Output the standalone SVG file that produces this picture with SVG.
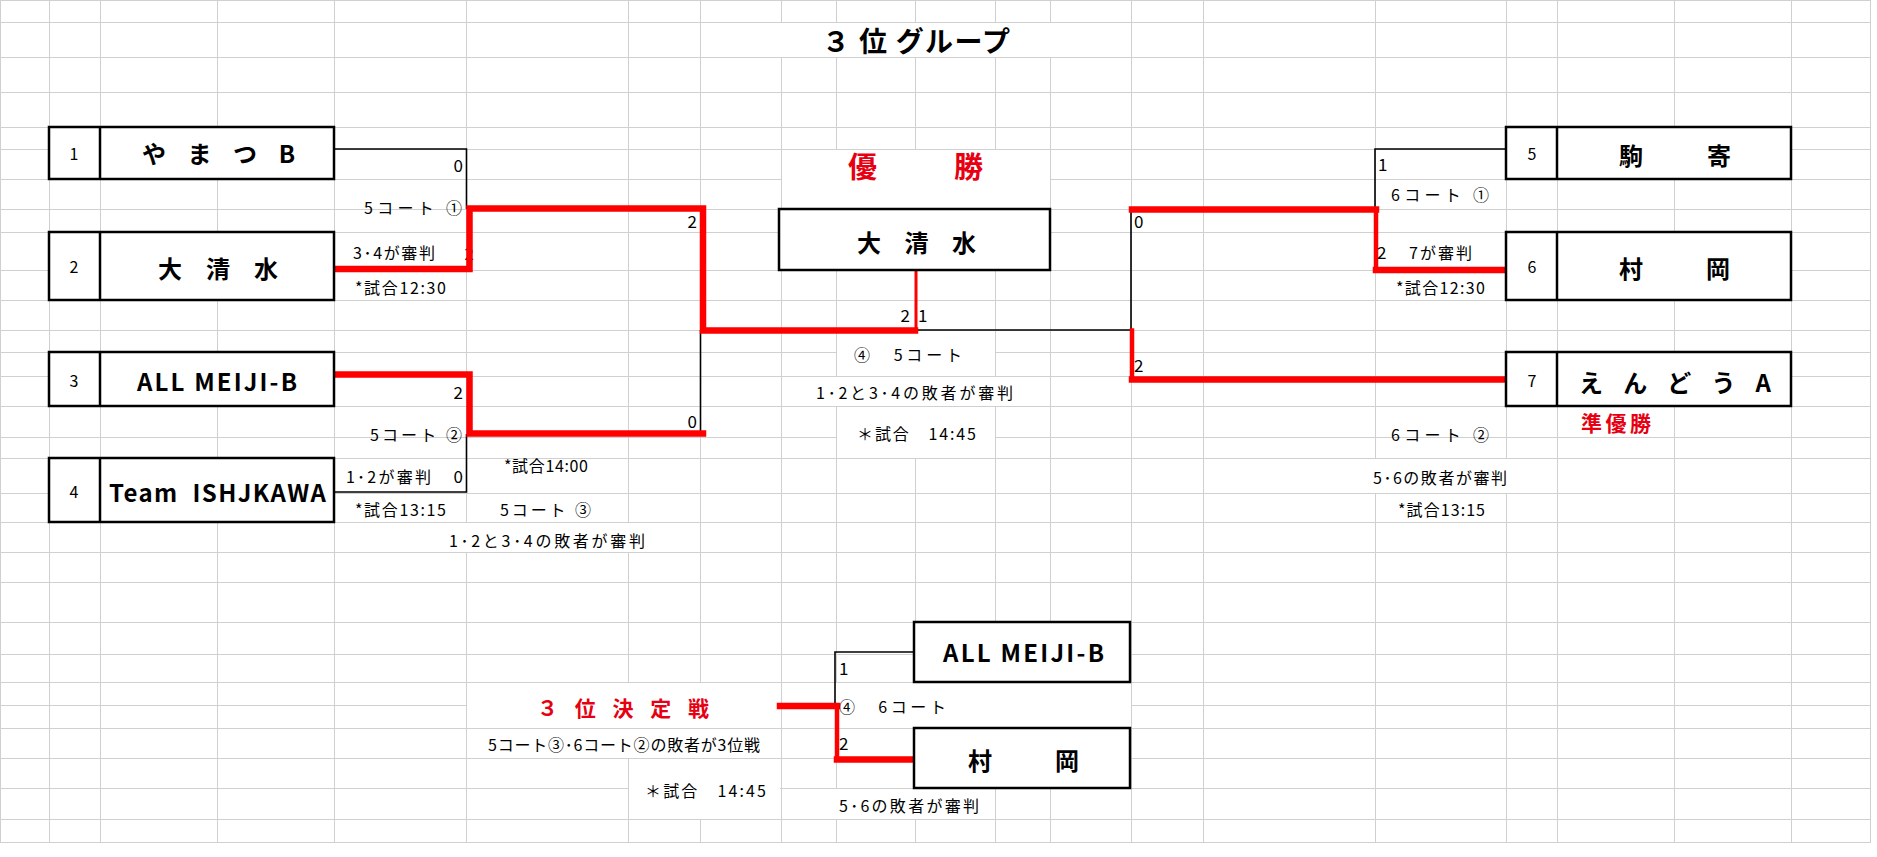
<svg xmlns="http://www.w3.org/2000/svg" width="1877" height="857" viewBox="0 0 1877 857">
<style>
text{font-family:"Noto Sans CJK JP","Noto Sans",sans-serif;fill:#000}
.grid{stroke:#d0d0d0;stroke-width:1;fill:none;shape-rendering:crispEdges}
.m{fill:#fff}
.box{fill:#fff;stroke:#000;stroke-width:2.5}
.div{stroke:#000;stroke-width:2.5}
.nm{font-size:24px;font-weight:bold}
.num{font-size:16px;text-anchor:middle}
.sm{font-size:16px}
.sc{font-size:17px}
.e{text-anchor:end}
.red{fill:#e60012;font-weight:bold}
.bk{stroke:#000;stroke-width:1.6;fill:none}
.rt{stroke:#f00;stroke-width:6.5;fill:none;stroke-linecap:square}
.rm{stroke:#f00;stroke-width:4.5;fill:none;stroke-linecap:square}
.rs{stroke:#f00;stroke-width:3;fill:none}
</style>
<rect width="1877" height="857" fill="#fff"/>
<g id="grid">
<path class="grid" d="M0.5,0V842M49.5,0V842M100.5,0V842M217.5,0V842M334.5,0V842M466.5,0V842M628.5,0V842M700.5,0V842M781.5,0V842M836.5,0V842M915.5,0V842M995.5,0V842M1050.5,0V842M1131.5,0V842M1203.5,0V842M1375.5,0V842M1506.5,0V842M1557.5,0V842M1674.5,0V842M1791.5,0V842M1870.5,0V842"/>
<path class="grid" d="M0,0.5H1871M0,22.5H1871M0,57.5H1871M0,92.5H1871M0,127.5H1871M0,149.5H1871M0,179.5H1871M0,209.5H1871M0,232.5H1871M0,270.5H1871M0,300.5H1871M0,330.5H1871M0,352.5H1871M0,376.5H1871M0,406.5H1871M0,437.5H1871M0,458.5H1871M0,493.5H1871M0,522.5H1871M0,552.5H1871M0,582.5H1871M0,622.5H1871M0,654.5H1871M0,682.5H1871M0,705.5H1871M0,728.5H1871M0,758.5H1871M0,788.5H1871M0,819.5H1871M0,842.5H1871"/>
<rect class="m" x="701" y="23" width="430" height="34"/>
<rect class="m" x="782" y="150" width="268" height="59"/>
<rect class="m" x="837" y="331" width="158" height="45"/>
<rect class="m" x="782" y="377" width="268" height="29"/>
<rect class="m" x="837" y="407" width="158" height="51"/>
<rect class="m" x="447" y="523" width="200" height="29"/>
<rect class="m" x="1372" y="459" width="136" height="34"/>
<rect class="m" x="467" y="683" width="313" height="45"/>
<rect class="m" x="836" y="683" width="295" height="45"/>
<rect class="m" x="486" y="729" width="276" height="29"/>
<rect class="m" x="629" y="759" width="151" height="60"/>
<rect class="m" x="836" y="789" width="158" height="30"/>
</g>
<g id="score-hidden">
<text class="sc e" x="474" y="260">2</text>
</g>
<g id="connectors">
<path class="bk" d="M334,149H466.5V209"/>
<path class="bk" d="M334,492H466.5V434"/>
<path class="bk" d="M700.5,330V434"/>
<path class="bk" d="M915,330H1131V209"/>
<path class="bk" d="M1506,149H1375V209"/>
<path class="bk" d="M914,652H835V706"/>
<path class="rt" d="M337,269H469.5V208.5H703V330.5H915" stroke-linecap="butt"/>
<path class="rt" d="M337,374.5H469.5V433.5H703" stroke-linecap="butt"/>
<path class="rs" d="M916,270V331"/>
<path class="rt" d="M1132,209.5H1376"/>
<path class="rm" d="M1376,209.5V270"/>
<path class="rt" d="M1376,270H1504" stroke-linecap="butt"/>
<path class="rm" d="M1132,330.5V379.5"/>
<path class="rt" d="M1132,379.5H1504" stroke-linecap="butt"/>
<path class="rt" d="M780,706H837" stroke-linecap="butt"/>
<path class="rm" d="M837,706V759.5"/>
<path class="rt" d="M837,759.5H912" stroke-linecap="butt"/>
</g>
<g id="title">
<text x="822" y="52" font-size="28" font-weight="bold" textLength="188">３ 位 グループ</text>
</g>
<g id="team1">
<rect class="box" x="49" y="127" width="285" height="52"/>
<line class="div" x1="100" y1="127" x2="100" y2="179"/>
<text class="num" x="74" y="160">1</text>
<text class="nm" x="142" y="163" font-size="23" textLength="153">や ま つ B</text>
</g>
<g id="team2">
<rect class="box" x="49" y="232" width="285" height="68"/>
<line class="div" x1="100" y1="232" x2="100" y2="300"/>
<text class="num" x="74" y="273">2</text>
<text class="nm" x="158" y="278" textLength="120">大 清 水</text>
</g>
<g id="team3">
<rect class="box" x="49" y="352" width="285" height="54"/>
<line class="div" x1="100" y1="352" x2="100" y2="406"/>
<text class="num" x="74" y="387">3</text>
<text class="nm" x="137" y="391" font-size="22" textLength="160">ALL MEIJI-B</text>
</g>
<g id="team4">
<rect class="box" x="49" y="458" width="285" height="64"/>
<line class="div" x1="100" y1="458" x2="100" y2="522"/>
<text class="num" x="74" y="498">4</text>
<text class="nm" x="109" y="502" font-size="22" textLength="217" xml:space="preserve">Team  ISHJKAWA</text>
</g>
<g id="team5">
<rect class="box" x="1506" y="127" width="285" height="52"/>
<line class="div" x1="1557" y1="127" x2="1557" y2="179"/>
<text class="num" x="1532" y="160">5</text>
<text class="nm" x="1619" y="165" font-size="25" textLength="112">駒　　寄</text>
</g>
<g id="team6">
<rect class="box" x="1506" y="232" width="285" height="68"/>
<line class="div" x1="1557" y1="232" x2="1557" y2="300"/>
<text class="num" x="1532" y="273">6</text>
<text class="nm" x="1619" y="278" font-size="25" textLength="111">村　　岡</text>
</g>
<g id="team7">
<rect class="box" x="1506" y="352" width="285" height="54"/>
<line class="div" x1="1557" y1="352" x2="1557" y2="406"/>
<text class="num" x="1532" y="387">7</text>
<text class="nm" x="1579" y="392" font-size="23" textLength="192">え ん ど う A</text>
<text class="red" x="1581" y="431" font-size="21" textLength="70">準優勝</text>
</g>
<g id="champion">
<text class="red" x="848" y="178" font-size="29" textLength="135">優　　勝</text>
<rect class="box" x="779" y="209" width="271" height="61"/>
<text class="nm" x="857" y="252" textLength="119">大 清 水</text>
</g>
<g id="third-a">
<rect class="box" x="914" y="622" width="216" height="60"/>
<text class="nm" x="943" y="662" font-size="23" textLength="161">ALL MEIJI-B</text>
</g>
<g id="third-b">
<rect class="box" x="914" y="728" width="216" height="60"/>
<text class="nm" x="968" y="770" font-size="25" textLength="111">村　　岡</text>
</g>
<g id="third-label">
<text class="red" x="537" y="716" font-size="21" textLength="172">３ 位 決 定 戦</text>
<text class="sm" x="488" y="751" textLength="272">5コート③･6コート②の敗者が3位戦</text>
<text class="sm" x="645" y="797" textLength="121">＊試合　14:45</text>
</g>
<g id="labels">
<text class="sm" x="364" y="214" textLength="98">5コート ①</text>
<text class="sm" x="353" y="259" textLength="82">3･4が審判</text>
<text class="sm" x="355" y="294" textLength="91">*試合12:30</text>
<text class="sm" x="370" y="441" textLength="92">5コート ②</text>
<text class="sm" x="346" y="483" textLength="85">1･2が審判</text>
<text class="sm" x="355" y="516" textLength="91">*試合13:15</text>
<text class="sm" x="504" y="472" textLength="84">*試合14:00</text>
<text class="sm" x="500" y="516" textLength="91">5コート ③</text>
<text class="sm" x="449" y="547" textLength="196">1･2と3･4の敗者が審判</text>
<text class="sm" x="854" y="361" textLength="108">④　5コート</text>
<text class="sm" x="816" y="399" textLength="197">1･2と3･4の敗者が審判</text>
<text class="sm" x="857" y="440" textLength="119">＊試合　14:45</text>
<text class="sm" x="1391" y="201" textLength="98">6コート ①</text>
<text class="sm" x="1409" y="259" textLength="63">7が審判</text>
<text class="sm" x="1396" y="294" textLength="89">*試合12:30</text>
<text class="sm" x="1391" y="441" textLength="98">6コート ②</text>
<text class="sm" x="1373" y="484" textLength="134">5･6の敗者が審判</text>
<text class="sm" x="1398" y="516" textLength="87">*試合13:15</text>
<text class="sm" x="839" y="713" textLength="107">④　6コート</text>
<text class="sm" x="839" y="812" textLength="140">5･6の敗者が審判</text>
</g>
<g id="scores">
<text class="sc e" x="463" y="172">0</text>
<text class="sc e" x="697" y="228">2</text>
<text class="sc e" x="463" y="399">2</text>
<text class="sc e" x="463" y="483">0</text>
<text class="sc e" x="697" y="428">0</text>
<text class="sc e" x="910" y="322">2</text>
<text class="sc" x="918" y="322">1</text>
<text class="sc" x="1134" y="228">0</text>
<text class="sc" x="1134" y="372">2</text>
<text class="sc" x="1378" y="171">1</text>
<text class="sc" x="1377" y="259">2</text>
<text class="sc" x="839" y="675">1</text>
<text class="sc" x="839" y="750">2</text>
</g>
</svg>
